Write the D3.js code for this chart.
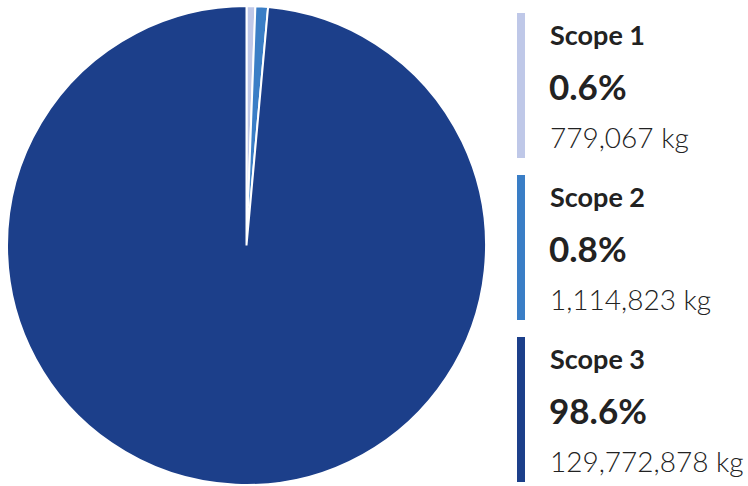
<!DOCTYPE html>
<html>
<head>
<meta charset="utf-8">
<script src="https://cdn.jsdelivr.net/npm/d3@7"></script>
<style>
  body { margin: 0; background: #fff; }
  text { font-family: Lato, "Open Sans", sans-serif; }
</style>
</head>
<body>
<svg width="748" height="486"></svg>
<script>
var scopes = ["Scope 1", "Scope 2", "Scope 3"];
var emissions = [779067, 1114823, 129772878];
var colors = ["#bfc8e8", "#3a7ec6", "#1c3f8a"];

var svg = d3.select("svg");

var total = d3.sum(emissions);
var dataSet = scopes.map(function(s, i) {
  return { scope: s, kg: emissions[i], share: emissions[i] / total };
});

// pie
var pie = d3.pie().sort(null).value(d => d.kg);
var arc = d3.arc().innerRadius(0).outerRadius(239.5);

svg.append("g")
  .attr("transform", "translate(246.5,245.5)")
  .selectAll("path")
  .data(pie(dataSet))
  .join("path")
  .attr("d", arc)
  .attr("fill", (d, i) => colors[i])
  .attr("stroke", "#fff")
  .attr("stroke-width", 2);

// legend
var rowY = d3.scaleBand().domain(scopes).range([13, 482]).paddingInner(0.105);
var fmtPct = d3.format(".1%");
var fmtKg = d3.format(",");

var rows = svg.append("g").selectAll("g")
  .data(dataSet)
  .join("g")
  .attr("transform", d => "translate(0," + rowY(d.scope) + ")");

rows.append("rect")
  .attr("x", 517)
  .attr("width", 8)
  .attr("height", rowY.bandwidth())
  .attr("fill", (d, i) => colors[i]);

rows.append("text")
  .attr("x", 550).attr("y", 32)
  .attr("font-size", 27).attr("font-weight", 700)
  .attr("fill", "#222")
  .text(d => d.scope);

rows.append("text")
  .attr("x", 549).attr("y", 86.5)
  .attr("font-size", 35).attr("font-weight", 700)
  .attr("fill", "#222")
  .text(d => fmtPct(d.share));

rows.append("text")
  .attr("x", 550).attr("y", 135)
  .attr("font-size", 28).attr("font-weight", 300)
  .attr("fill", "#222")
  .text(d => fmtKg(d.kg) + " kg");
</script>
</body>
</html>
